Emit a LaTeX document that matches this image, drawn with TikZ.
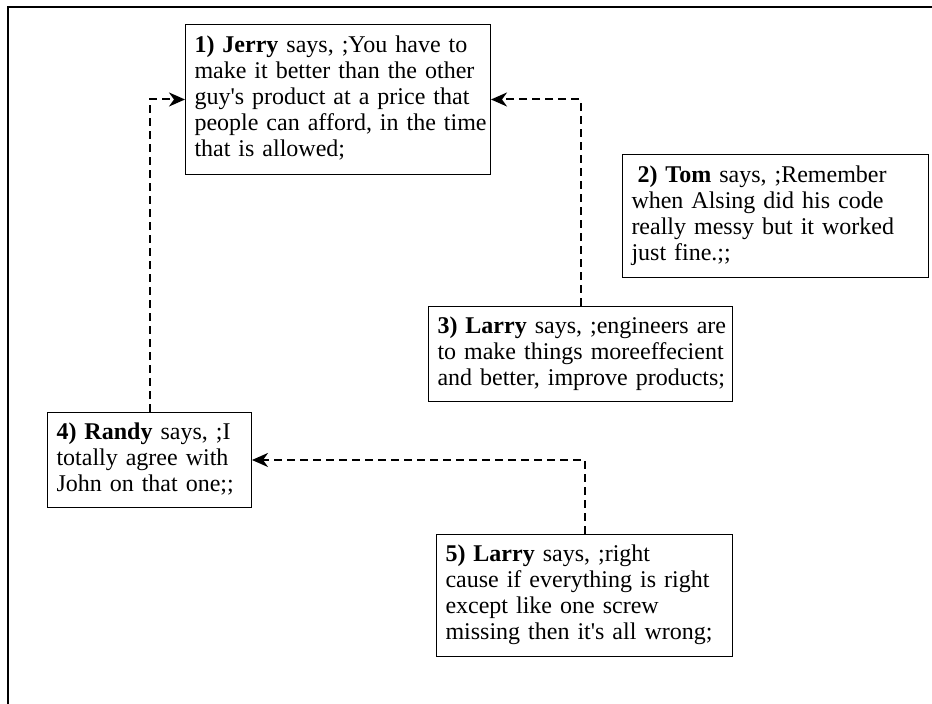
\documentclass[tikz,border=0pt]{standalone}
\usepackage{fontspec}
\setmainfont{Liberation Serif}
\usepackage{textcomp}
\usepackage{tikz}
\usetikzlibrary{arrows.meta,calc}
\def\drawreply{\draw[line width=1pt, dash pattern=on 4pt off 2.5pt, -{Stealth[length=8pt,width=7pt,inset=2.5pt]}]}
\def\saybox{\node[draw, line width=0.5pt, anchor=north west, align=left, inner xsep=4.5pt, font=\fontsize{12pt}{13pt}\selectfont]}
\def\says#1{\begin{tabular}{@{}l@{}}#1\end{tabular}}
\def\q{\textquotesingle}

\begin{document}
\begin{tikzpicture}[x=0.5pt,y=-0.5pt]
\useasboundingbox (0,0) rectangle (932,704);
% frame, open at right and bottom
\draw[line width=1pt] (8,704) -- (8,7) -- (932,7);

% -------- the sayings ---------
\saybox[text width=143.5pt, minimum height=75pt] (jerry) at (185,24)
  {\says{\textbf{1) Jerry} says, ;You have to\\ make it better than the other\\ guy\q s product at a price that\\ people can afford, in the time\\ that is allowed;}};
\saybox[text width=144pt, minimum height=61.5pt] (tom) at (622,154)
  {\says{\hspace*{0.25em}\textbf{2) Tom} says, ;Remember\\ when Alsing did his code\\ really messy but it worked\\ just fine.;;}};
\saybox[text width=143pt, minimum height=47.5pt] (larry) at (428,306)
  {\says{\textbf{3) Larry} says, ;engineers are\\ to make things moreeffecient\\ and better, improve products;}};
\saybox[text width=93pt, minimum height=47.5pt] (randy) at (47,412)
  {\says{\textbf{4) Randy} says, ;I\\ totally agree with\\ John on that one;;}};
\saybox[text width=139pt, minimum height=61pt] (larry2) at (436,534)
  {\says{\textbf{5) Larry} says, ;right\\ cause if everything is right\\ except like one screw\\ missing then it\q s all wrong;}};

% -------- replies ---------
\drawreply (randy.north) |- (jerry.west);
\drawreply (larry.north) |- (jerry.east);
\drawreply (larry2.north) |- (randy.east);
\end{tikzpicture}
\end{document}
